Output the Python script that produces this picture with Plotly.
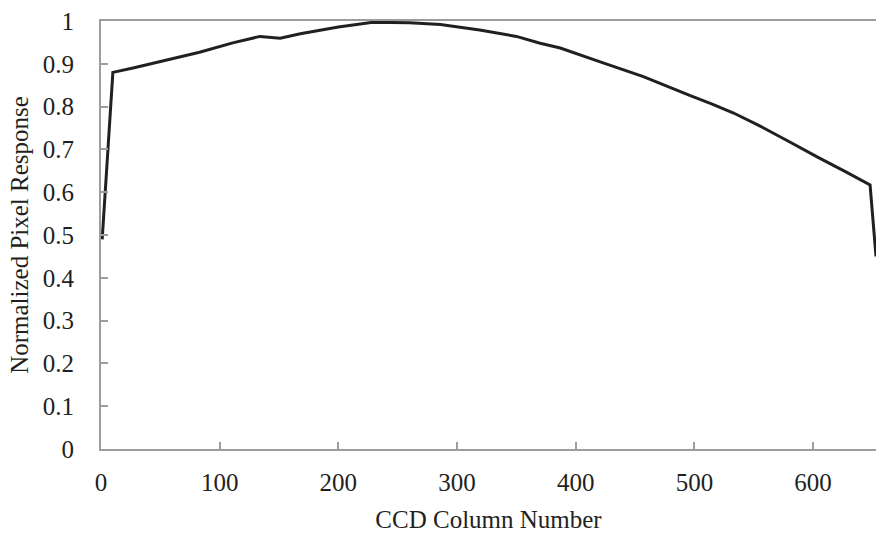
import plotly.graph_objects as go

column = [1, 10, 27, 55, 83, 111, 134, 151, 168, 200, 229, 260, 286, 319, 350, 370, 387, 420, 457, 496, 515, 533, 555, 580, 603, 628, 648, 653]
response = [0.49, 0.88, 0.89, 0.908, 0.927, 0.949, 0.964, 0.96, 0.97, 0.986, 0.997, 0.996, 0.992, 0.979, 0.964, 0.948, 0.937, 0.905, 0.87, 0.826, 0.806, 0.785, 0.755, 0.718, 0.683, 0.647, 0.617, 0.45]

x_ticks = [0, 100, 200, 300, 400, 500, 600]
y_ticks = [0, 0.1, 0.2, 0.3, 0.4, 0.5, 0.6, 0.7, 0.8, 0.9, 1]
y_tick_text = ["0", "0.1", "0.2", "0.3", "0.4", "0.5", "0.6", "0.7", "0.8", "0.9", "1"]

fig = go.Figure()
fig.add_trace(go.Scatter(x=column, y=response, mode="lines",
                         line=dict(color="#231f20", width=3), showlegend=False, cliponaxis=True))

font = dict(family="Liberation Serif, Times New Roman, serif", size=25, color="#231f20")
axis_color = "#9d9d9d"

fig.update_layout(
    width=876, height=533,
    margin=dict(l=101, r=0, t=21, b=84),
    paper_bgcolor="white", plot_bgcolor="white",
    font=font,
    xaxis=dict(range=[0, 653], tickvals=x_ticks, ticks="inside", ticklen=7, tickwidth=2,
               tickcolor=axis_color, showline=True, linecolor=axis_color, linewidth=2,
               mirror=True, showgrid=False, zeroline=False, ticklabelstandoff=10,
               ticklabeloverflow="allow",
               title=dict(text="CCD Column Number", font=dict(size=25), standoff=20),
               tickfont=dict(size=25)),
    yaxis=dict(range=[0, 1], tickvals=y_ticks, ticktext=y_tick_text, ticks="inside", ticklen=7,
               tickwidth=2, tickcolor=axis_color, showline=True, linecolor=axis_color, linewidth=2,
               showgrid=False, zeroline=False, ticklabelstandoff=20, ticklabeloverflow="allow",
               title=dict(text="Normalized Pixel Response", font=dict(size=25), standoff=7),
               tickfont=dict(size=25)),
)

fig.write_html("out.html", config={"displayModeBar": False},
               post_script="document.body.style.margin='0';document.body.style.overflow='hidden';")
